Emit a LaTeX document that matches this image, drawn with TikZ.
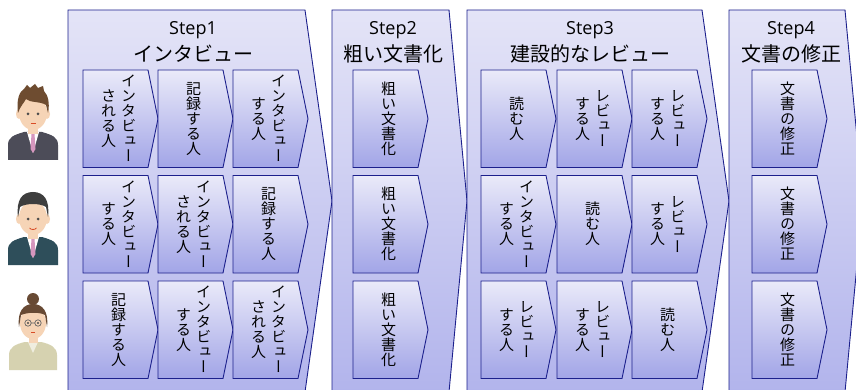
\documentclass[tikz,border=0pt]{standalone}
\usepackage{fontspec}
\setmainfont{Open Sans}
\newfontfamily\jpfont{Noto Sans CJK JP}
\newfontfamily\jpvert[RawFeature=+vert]{Noto Sans CJK JP}

\definecolor{edge}{RGB}{28,32,140}
\definecolor{steptop}{RGB}{228,228,247}
\definecolor{stepbot}{RGB}{178,180,236}
\definecolor{celltop}{RGB}{234,234,249}
\definecolor{cellbot}{RGB}{162,165,231}
\definecolor{skin}{RGB}{246,212,182}
\definecolor{hairA}{RGB}{110,76,48}
\definecolor{suitA}{RGB}{76,76,88}
\definecolor{hairB}{RGB}{62,62,62}
\definecolor{suitB}{RGB}{46,78,90}
\definecolor{hairC}{RGB}{104,74,52}
\definecolor{blouse}{RGB}{214,210,176}
\definecolor{tiepink}{RGB}{214,150,190}

% one column of upright Japanese characters, 15pt pitch
\makeatletter
\newcommand\tatecol[1]{\vbox{\offinterlineskip\tate@loop#1\relax}}
\def\tate@loop#1{\ifx\relax#1\else
  \hbox to 15pt{\hss\vrule height 13.2pt depth 1.8pt width 0pt #1\hss}%
  \expandafter\tate@loop\fi}
\makeatother

\tikzset{
  stepbox/.style={draw=edge, line width=0.9pt, top color=steptop, bottom color=stepbot},
  cellbox/.style={draw=edge, line width=0.9pt, top color=celltop, bottom color=cellbot},
  steplabel/.style={anchor=base, inner sep=0pt, font=\fontsize{18}{18}\selectfont},
  stepname/.style={anchor=base, inner sep=0pt, font=\jpfont\fontsize{20}{20}\selectfont},
  tate/.style={inner sep=0pt, font=\jpvert\fontsize{15}{15}\selectfont},
}

% big step chevron: left x, shoulder x, tip x
\newcommand\stepshape[3]{%
  \path[stepbox] (#1,10) -- (#2,10) -- (#3,201) -- (#2,392) -- (#1,392) -- cycle;}
% small chevron: left x, top y
\newcommand\cellshape[2]{%
  \path[cellbox] (#1,#2) -- ++(65,0) -- ++(10,48.75) -- ++(-10,48.75) -- ++(-65,0) -- cycle;}
% cell with two text columns: name, left x, top y, right column, left column
\newcommand\cellpair[5]{%
  \cellshape{#2}{#3}
  \node[tate] (#1r) at (#2+45.5,#3+48.75) {\tatecol{#4}};
  \node[tate] (#1l) at (#2+25.5,#3+48.75) {\tatecol{#5}};}
% cell with one text column: name, left x, top y, column
\newcommand\cellone[4]{%
  \cellshape{#2}{#3}
  \node[tate] (#1) at (#2+35.5,#3+48.75) {\tatecol{#4}};}

\begin{document}
\begin{tikzpicture}[x=1pt, y=-1pt]
\useasboundingbox (0,0) rectangle (856,390);
\fill[white] (0,0) rectangle (856,390);

% ---- the four phases ----
\stepshape{68}{305}{332}
\stepshape{332}{449}{467}
\stepshape{467}{702}{729}
\stepshape{729}{845}{863}

\node[steplabel] (s1) at (193,35) {Step1};
\node[stepname]  (n1) at (193,61.5) {インタビュー};
\node[steplabel] (s2) at (393,35) {Step2};
\node[stepname]  (n2) at (393,61.5) {粗い文書化};
\node[steplabel] (s3) at (590,35) {Step3};
\node[stepname]  (n3) at (590,61.5) {建設的なレビュー};
\node[steplabel] (s4) at (791,35) {Step4};
\node[stepname]  (n4) at (791,61.5) {文書の修正};

% ---- Step1: interview roles ----
\cellpair{a11}{83}{70}{インタビュー}{される人}
\cellone {a12}{158}{70}{記録する人}
\cellpair{a13}{233}{70}{インタビュー}{する人}
\cellpair{a21}{83}{175.5}{インタビュー}{する人}
\cellpair{a22}{158}{175.5}{インタビュー}{される人}
\cellone {a23}{233}{175.5}{記録する人}
\cellone {a31}{83}{281}{記録する人}
\cellpair{a32}{158}{281}{インタビュー}{する人}
\cellpair{a33}{233}{281}{インタビュー}{される人}

% ---- Step2 ----
\cellone{b1}{353}{70}{粗い文書化}
\cellone{b2}{353}{175.5}{粗い文書化}
\cellone{b3}{353}{281}{粗い文書化}

% ---- Step3: review roles ----
\cellone {c11}{481}{70}{読む人}
\cellpair{c12}{557}{70}{レビュー}{する人}
\cellpair{c13}{632}{70}{レビュー}{する人}
\cellpair{c21}{481}{175.5}{インタビュー}{する人}
\cellone {c22}{557}{175.5}{読む人}
\cellpair{c23}{632}{175.5}{レビュー}{する人}
\cellpair{c31}{481}{281}{レビュー}{する人}
\cellpair{c32}{557}{281}{レビュー}{する人}
\cellone {c33}{632}{281}{読む人}

% ---- Step4 ----
\cellone{d1}{752}{70}{文書の修正}
\cellone{d2}{752}{175.5}{文書の修正}
\cellone{d3}{752}{281}{文書の修正}

% ---- member 1: brown hair, grey suit ----
\begin{scope}[shift={(0,85)}]
  \fill[suitA] (8,75) -- (8,60) .. controls (8,52) and (14,50) .. (24,47) -- (42,47) .. controls (52,50) and (58,52) .. (58,60) -- (58,75) -- cycle;
  \fill[white] (27,47) -- (39,47) -- (33,68) -- cycle;
  \fill[tiepink] (31.5,49) -- (34.5,49) -- (35.5,64) -- (33,68) -- (30.5,64) -- cycle;
  \fill[skin] (28,38) rectangle (38,49);
  \fill[skin] (19,29) ellipse (3 and 5);
  \fill[skin] (47,29) ellipse (3 and 5);
  \fill[skin] (33,28) ellipse (14 and 17);
  \fill[hairA] (18,28) .. controls (16,14) and (20,6) .. (24,4) -- (27,0) -- (30,3) -- (35,-1) -- (38,3) -- (43,1) -- (44,6) .. controls (48,10) and (50,18) .. (48,28)
     -- (46,20) .. controls (40,16) and (30,18) .. (26,14) .. controls (24,18) and (21,20) .. cycle;
  \fill[black!70] (28,29) circle (1.5);
  \fill[black!70] (38,29) circle (1.5);
  \draw[red!40!brown, line width=0.8pt] (30.5,38) -- (35.5,38);
\end{scope}

% ---- member 2: dark hair, teal suit ----
\begin{scope}[shift={(0,190)}]
  \fill[suitB] (8,75) -- (8,60) .. controls (8,52) and (14,50) .. (24,47) -- (42,47) .. controls (52,50) and (58,52) .. (58,60) -- (58,75) -- cycle;
  \fill[white] (27,47) -- (39,47) -- (33,68) -- cycle;
  \fill[tiepink] (31.5,49) -- (34.5,49) -- (35.5,64) -- (33,68) -- (30.5,64) -- cycle;
  \fill[skin] (28,38) rectangle (38,49);
  \fill[skin] (19,29) ellipse (3 and 5);
  \fill[skin] (47,29) ellipse (3 and 5);
  \fill[skin] (33,28) ellipse (14 and 17);
  \fill[hairB] (18,27) .. controls (16,10) and (22,2) .. (33,2) .. controls (44,2) and (50,10) .. (48,27)
     -- (46,17) .. controls (40,13) and (26,13) .. (20,17) -- cycle;
  \fill[black!70] (28,29) circle (1.5);
  \fill[black!70] (38,29) circle (1.5);
  \draw[red!40!brown, line width=0.8pt] (29.5,38) .. controls (31,40) and (35,40) .. (36.5,38);
\end{scope}

% ---- member 3: hair in a bun, glasses, beige blouse ----
\begin{scope}[shift={(0,293)}]
  \fill[blouse] (9,77) -- (9,62) .. controls (9,54) and (16,51) .. (25,49) -- (41,49) .. controls (50,51) and (57,54) .. (57,62) -- (57,77) -- cycle;
  \fill[white!60!blouse] (28,49) -- (38,49) -- (33,60) -- cycle;
  \fill[skin] (28.5,40) rectangle (37.5,50);
  \fill[skin] (33,30) ellipse (13 and 16);
  \fill[hairC] (33,6) circle (6);
  \fill[hairC] (19,34) .. controls (17,18) and (24,11) .. (33,11) .. controls (42,11) and (49,18) .. (47,34)
     -- (45,22) .. controls (40,19) and (28,19) .. (21,22) -- cycle;
  \draw[black!60, line width=0.7pt] (28,30) circle (3.2) (38,30) circle (3.2) (31.2,30) -- (34.8,30);
  \fill[black!70] (28,30) circle (1.2);
  \fill[black!70] (38,30) circle (1.2);
  \draw[red!40!brown, line width=0.7pt] (31,39) -- (35,39);
\end{scope}
\end{tikzpicture}
\end{document}
